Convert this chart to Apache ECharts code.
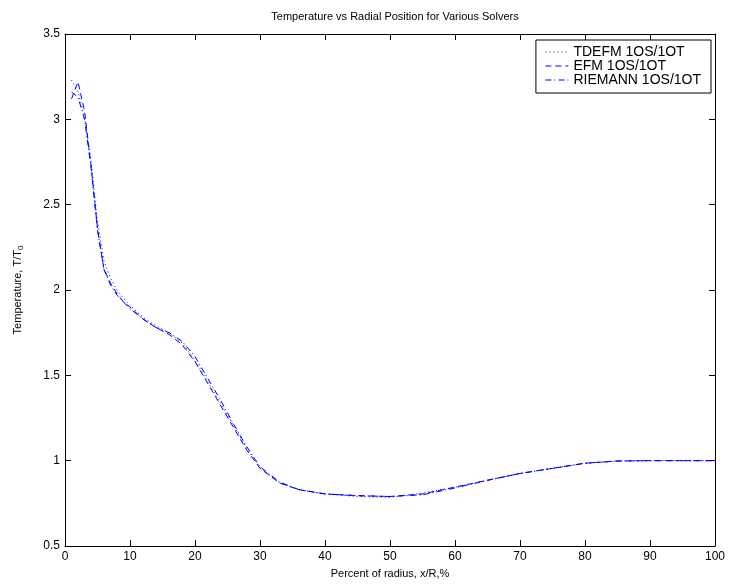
<!DOCTYPE html>
<html lang="en">

<head>
    <meta charset="UTF-8">
    <title>Temperature vs Radial Position</title>
    <script src="https://cdn.jsdelivr.net/npm/echarts@6/dist/echarts.min.js"></script>
    <style>
        body { margin: 0; background: #fff; }
    </style>
</head>

<body>
    <div id="main" style="width: 730px;height: 584px;"></div>

    <script type="text/javascript">
        // radial position, percent of radius
        var xPos = [1, 2, 3, 4, 5, 6, 7, 8, 9, 10, 12, 14, 16, 18, 20, 22, 24, 26, 28, 30,
            33, 36, 40, 45, 50, 55, 60, 65, 70, 75, 80, 85, 90, 95, 100];

        // temperature T/T0 for each solver
        var tdefm = [3.23, 3.16, 3.02, 2.76, 2.40, 2.17, 2.07, 2.00, 1.95, 1.91, 1.84, 1.79, 1.75, 1.69, 1.59, 1.46, 1.33, 1.20, 1.07, 0.96,
            0.87, 0.83, 0.805, 0.79, 0.785, 0.81, 0.845, 0.885, 0.925, 0.955, 0.985, 0.998, 1.0, 1.0, 1.0];
        var efm = [3.12, 3.22, 3.05, 2.73, 2.36, 2.12, 2.04, 1.98, 1.93, 1.90, 1.83, 1.78, 1.74, 1.68, 1.58, 1.45, 1.32, 1.19, 1.06, 0.955,
            0.87, 0.83, 0.805, 0.795, 0.79, 0.805, 0.845, 0.885, 0.925, 0.955, 0.985, 0.998, 1.0, 1.0, 1.0];
        var riemann = [3.16, 3.13, 3.00, 2.72, 2.35, 2.12, 2.03, 1.97, 1.93, 1.89, 1.83, 1.78, 1.75, 1.70, 1.61, 1.48, 1.35, 1.21, 1.08, 0.965,
            0.875, 0.83, 0.805, 0.795, 0.79, 0.80, 0.84, 0.885, 0.925, 0.955, 0.985, 0.998, 1.0, 1.0, 1.0];

        var xTicks = { min: 0, max: 100, interval: 10 };
        var yTicks = { min: 0.5, max: 3.5, interval: 0.5 };

        function pairs(ys) {
            return xPos.map(function (x, i) { return [x, ys[i]]; });
        }

        var font = 'Liberation Sans, Arial, Helvetica, sans-serif';
        var blue = '#0000ff';

        var myChart = echarts.init(document.getElementById('main'));

        // box axes like matlab: ticks inside on all four sides
        function boxAxis(pos, t, showLabel) {
            return {
                type: 'value',
                position: pos,
                min: t.min, max: t.max, interval: t.interval,
                splitLine: { show: false },
                axisLine: { show: true, onZero: false, lineStyle: { color: '#000', width: 1 } },
                axisTick: { show: true, inside: true, length: 6, lineStyle: { color: '#000' } },
                axisLabel: {
                    show: showLabel, color: '#000', fontFamily: font, fontSize: 12, margin: 5,
                    formatter: function (v) { return String(Math.round(v * 10) / 10); }
                }
            };
        }

        var xBottom = boxAxis('bottom', xTicks, true);
        xBottom.name = 'Percent of radius, x/R,%';
        xBottom.nameLocation = 'middle';
        xBottom.nameGap = 22;
        xBottom.nameTextStyle = { color: '#000', fontFamily: font, fontSize: 11 };

        var yLeft = boxAxis('left', yTicks, true);
        yLeft.name = 'Temperature, T/T{sub|0}';
        yLeft.nameLocation = 'middle';
        yLeft.nameGap = 40;
        yLeft.nameTextStyle = {
            color: '#000', fontFamily: font, fontSize: 11,
            rich: { sub: { fontSize: 8, verticalAlign: 'bottom', padding: [6, 0, 0, 0], fontFamily: font, color: '#000' } }
        };

        var option = {
            animation: false,
            backgroundColor: '#fff',
            title: {
                text: 'Temperature vs Radial Position for Various Solvers',
                left: 390, top: 6, textAlign: 'center',
                textStyle: { color: '#000', fontFamily: font, fontSize: 11, fontWeight: 'normal' }
            },
            grid: { left: 65, right: 15, top: 34, bottom: 38 },
            legend: {
                orient: 'vertical',
                right: 19, top: 40,
                borderColor: '#000', borderWidth: 1,
                backgroundColor: '#fff',
                padding: [5, 10, 6, 9],
                itemWidth: 23, itemHeight: 12, itemGap: 0,
                itemStyle: { color: 'rgba(0,0,0,0)', borderColor: 'rgba(0,0,0,0)', borderWidth: 0 },
                lineStyle: { width: 1, color: blue },
                textStyle: { color: '#000', fontFamily: font, fontSize: 14, lineHeight: 12 },
                data: ['TDEFM 1OS/1OT', 'EFM 1OS/1OT', 'RIEMANN 1OS/1OT']
            },
            xAxis: [xBottom, boxAxis('top', xTicks, false)],
            yAxis: [yLeft, boxAxis('right', yTicks, false)],
            series: [{
                name: 'TDEFM 1OS/1OT', type: 'line', showSymbol: false, symbol: 'none',
                data: pairs(tdefm),
                lineStyle: { color: blue, width: 1, type: [1, 3] },
                itemStyle: { color: blue }
            }, {
                name: 'EFM 1OS/1OT', type: 'line', showSymbol: false, symbol: 'none',
                data: pairs(efm),
                lineStyle: { color: blue, width: 1, type: [6, 4] },
                itemStyle: { color: blue }
            }, {
                name: 'RIEMANN 1OS/1OT', type: 'line', showSymbol: false, symbol: 'none',
                data: pairs(riemann),
                lineStyle: { color: blue, width: 1, type: [6, 3, 1, 3] },
                itemStyle: { color: blue }
            }]
        };

        myChart.setOption(option);
    </script>
</body>

</html>
